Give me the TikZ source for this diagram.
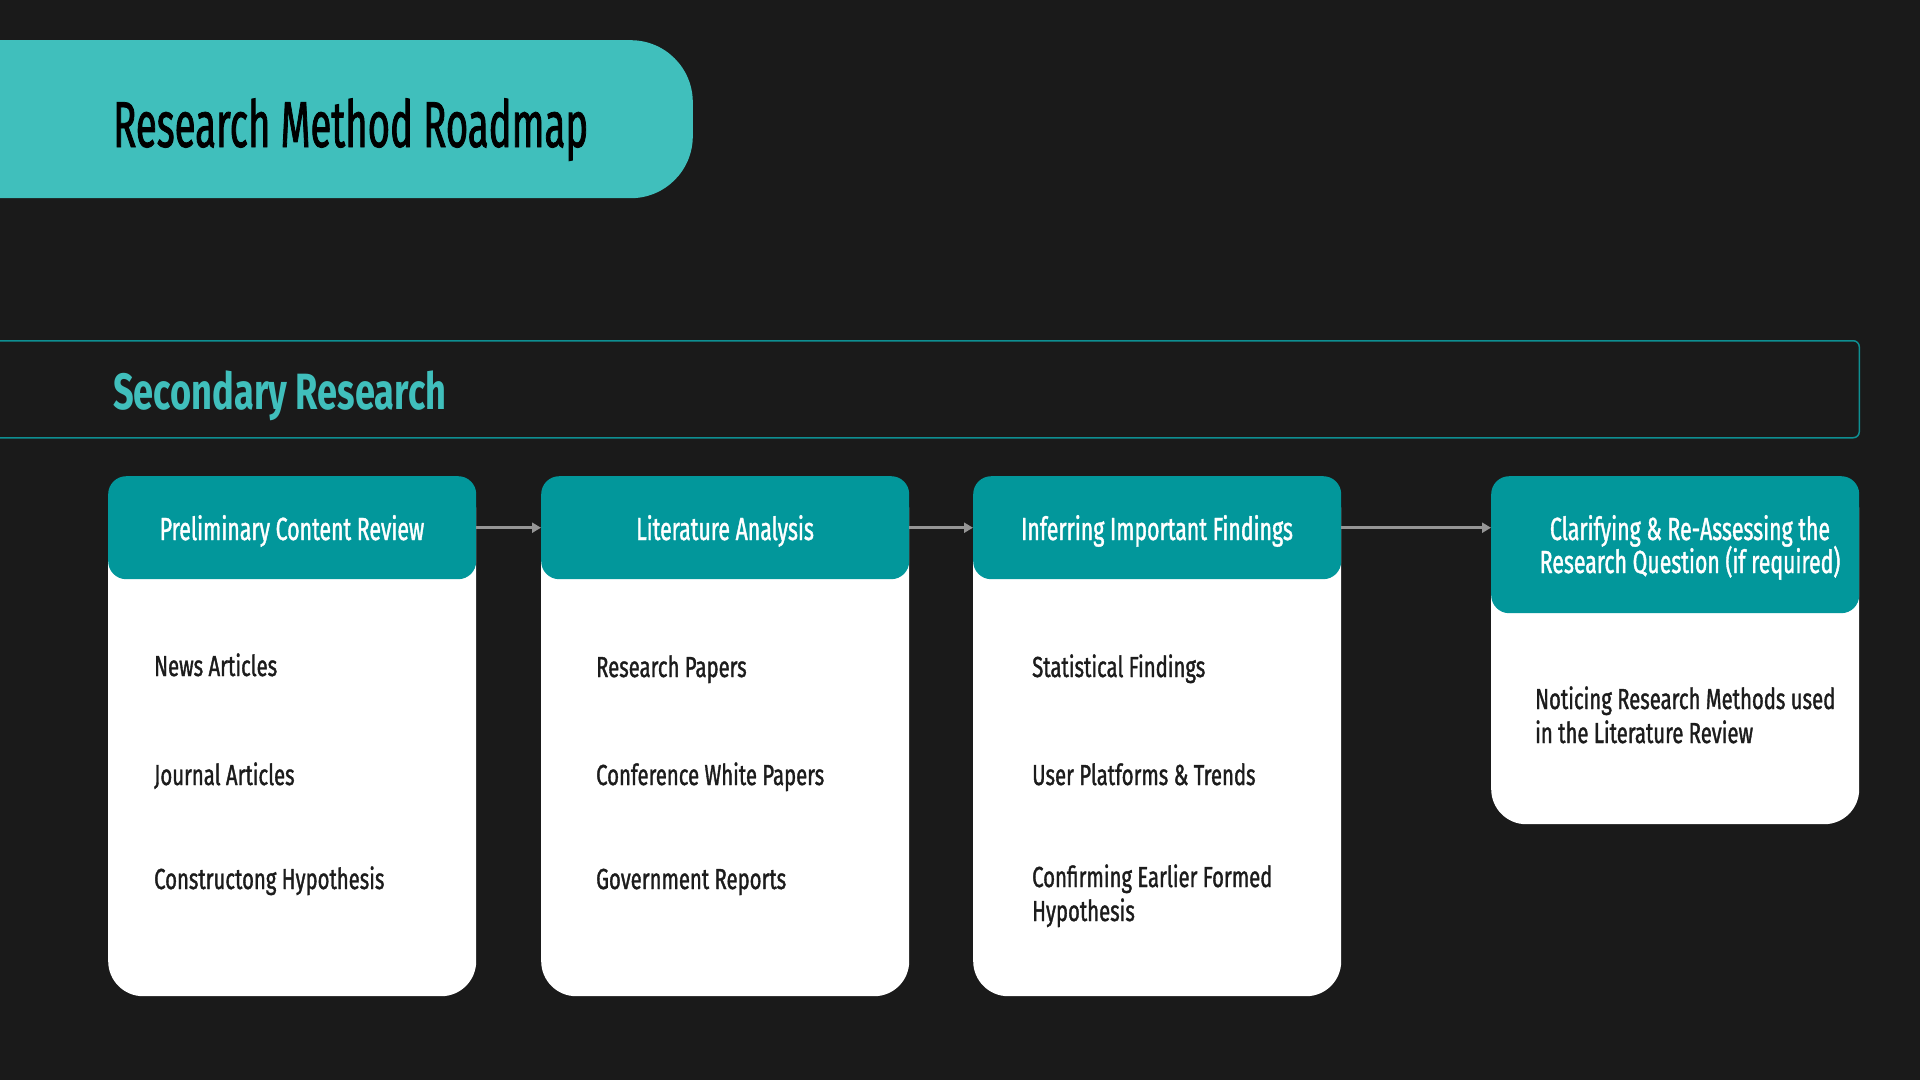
\documentclass[tikz,border=0pt]{standalone}
\usepackage{fontspec}
\setmainfont{Fira Sans}
\newfontfamily\oswtitle[FakeStretch=0.59,FakeBold=1.2]{Fira Sans}
\newfontfamily\oswsec[FakeStretch=0.71]{Fira Sans}
\newfontfamily\oswhead[FakeStretch=0.665,FakeBold=1.2]{Fira Sans}
\newfontfamily\oswbody[FakeStretch=0.70,FakeBold=1.2]{Fira Sans}
\usetikzlibrary{arrows.meta,calc}
\definecolor{bg}{HTML}{1A1A1A}
\definecolor{titlebg}{HTML}{40BFBC}
\definecolor{headbg}{HTML}{02979B}
\definecolor{bandline}{HTML}{0E8F92}
\definecolor{arrowgray}{HTML}{959595}
\definecolor{bodytext}{HTML}{1C1C1C}
\begin{document}
\begin{tikzpicture}[x=1pt,y=-1pt,
  card/.style={fill=white, rounded corners=35, minimum width=368, anchor=north west, inner sep=0},
  headbox/.style={fill=headbg, rounded corners=18, minimum width=368, anchor=north west, inner sep=0},
  headtext/.style={anchor=base, inner sep=0, text=white, font=\oswhead\fontsize{32}{38}\selectfont},
  bodyline/.style={anchor=base west, inner sep=0, text=bodytext, font=\oswbody\fontsize{29}{35}\selectfont},
  conn/.style={draw=arrowgray, line width=2.6, -{Triangle[length=9,width=10]}}]
\useasboundingbox (0,0) rectangle (1920,1080);
\fill[bg] (0,0) rectangle (1920,1080);
\begin{scope}
\clip (0,0) rectangle (1920,1080);
% title
\node (titlebox) [fill=titlebg, rounded corners=62, minimum width=793, minimum height=158, anchor=north east, inner sep=0] at (693,40) {};
\node (titletext) [anchor=base west, inner sep=0, text=black, font=\oswtitle\fontsize{65}{78}\selectfont] at (113,147) {Research Method Roadmap};
% band
\node (band) [draw=bandline, line width=1.5, rounded corners=6, minimum width=1890, minimum height=97, anchor=north east, inner sep=0] at (1860,340) {};
\node (sec) [anchor=base west, inner sep=0, text=titlebg, font=\oswsec\bfseries\fontsize{51}{60}\selectfont] at (113,409) {Secondary Research};
% cards
\node (c1) [card, minimum height=520] at (108,476) {};
\node (c2) [card, minimum height=520] at (541,476) {};
\node (c3) [card, minimum height=520] at (973,476) {};
\node (c4) [card, minimum height=348] at (1491,476) {};
\node (h1) [headbox, minimum height=103] at (108,476) {};
\node (h2) [headbox, minimum height=103] at (541,476) {};
\node (h3) [headbox, minimum height=103] at (973,476) {};
\node (h4) [headbox, minimum height=137] at (1491,476) {};
% header texts
\node (t1) [headtext] at (292,540) {Preliminary Content Review};
\node (t2) [headtext] at (725,540) {Literature Analysis};
\node (t3) [headtext] at (1157,540) {Inferring Important Findings};
\node (t4a) [headtext] at (1690,540) {Clarifying \& Re-Assessing the};
\node (t4b) [headtext] at (1690,573) {Research Question (if required)};
% body texts
\node (b11) [bodyline] at (154,676) {News Articles};
\node (b12) [bodyline] at (154,785) {Journal Articles};
\node (b13) [bodyline] at (154,889) {Constructong Hypothesis};
\node (b21) [bodyline] at (596,677) {Research Papers};
\node (b22) [bodyline] at (596,785) {Conference White Papers};
\node (b23) [bodyline] at (596,889) {Government Reports};
\node (b31) [bodyline] at (1032,677) {Statistical Findings};
\node (b32) [bodyline] at (1032,785) {User Platforms \& Trends};
\node (b33a) [bodyline] at (1032,887) {Confirming Earlier Formed};
\node (b33b) [bodyline] at (1032,921) {Hypothesis};
\node (b41a) [bodyline] at (1535,709) {Noticing Research Methods used};
\node (b41b) [bodyline] at (1535,743) {in the Literature Review};
% connectors
\draw[conn] (h1.east) -- (h2.west);
\draw[conn] (h2.east) -- (h3.west);
\draw[conn] (h3.east) -- (h3.east -| h4.west);
\end{scope}
\end{tikzpicture}
\end{document}
